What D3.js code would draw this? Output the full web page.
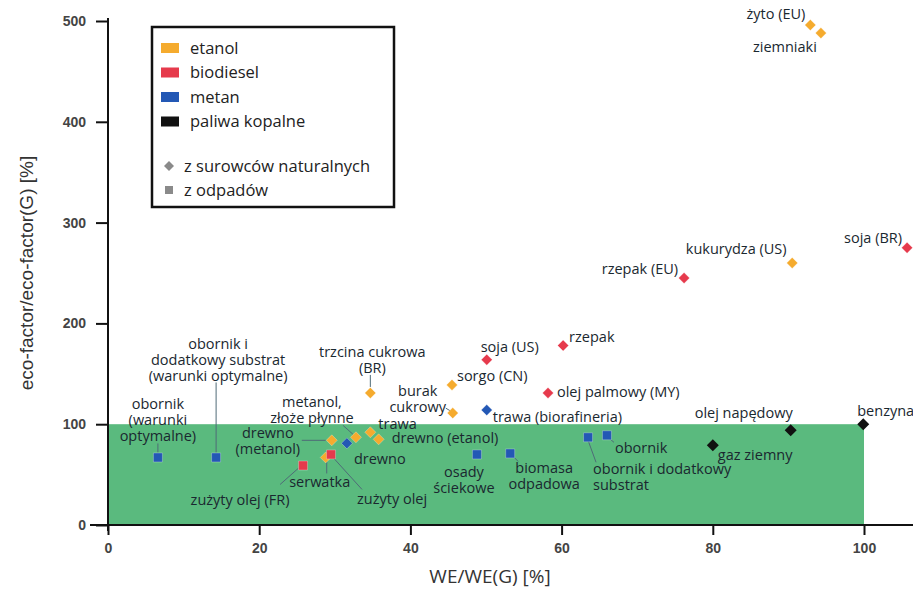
<!DOCTYPE html>
<html>
<head>
<meta charset="utf-8">
<script src="https://cdn.jsdelivr.net/npm/d3@7"></script>
<style>
  body { margin: 0; background: #fff; }
  svg { display: block; }
</style>
</head>
<body>
<div id="chart"></div>
<script>
// data: WE/WE(G) [%], eco-factor/eco-factor(G) [%]
const etanol = [
  { name: "żyto (EU)", we: 92.9, eco: 496, kind: "nat" },
  { name: "ziemniaki", we: 94.3, eco: 488, kind: "nat" },
  { name: "kukurydza (US)", we: 90.5, eco: 260, kind: "nat" },
  { name: "trzcina cukrowa (BR)", we: 34.7, eco: 131, kind: "nat" },
  { name: "sorgo (CN)", we: 45.5, eco: 139, kind: "nat" },
  { name: "burak cukrowy", we: 45.6, eco: 111, kind: "nat" },
  { name: "drewno (metanol)", we: 29.6, eco: 84, kind: "nat" },
  { name: "metanol, złoże płynne", we: 32.8, eco: 87, kind: "nat" },
  { name: "trawa", we: 34.7, eco: 92, kind: "nat" },
  { name: "drewno (etanol)", we: 35.8, eco: 85, kind: "nat" },
  { name: "serwatka", we: 28.8, eco: 67, kind: "nat" }
];
const biodiesel = [
  { name: "soja (BR)", we: 105.7, eco: 275, kind: "nat" },
  { name: "rzepak (EU)", we: 76.2, eco: 245, kind: "nat" },
  { name: "rzepak", we: 60.2, eco: 178, kind: "nat" },
  { name: "soja (US)", we: 50.1, eco: 164, kind: "nat" },
  { name: "olej palmowy (MY)", we: 58.2, eco: 131, kind: "nat" },
  { name: "zużyty olej", we: 29.5, eco: 70, kind: "waste" },
  { name: "zużyty olej (FR)", we: 25.8, eco: 59, kind: "waste" }
];
const metan = [
  { name: "trawa (biorafineria)", we: 50.1, eco: 114, kind: "nat" },
  { name: "drewno", we: 31.6, eco: 81, kind: "nat" },
  { name: "obornik (warunki optymalne)", we: 6.6, eco: 67, kind: "waste" },
  { name: "obornik i dodatkowy substrat (warunki optymalne)", we: 14.3, eco: 67, kind: "waste" },
  { name: "osady ściekowe", we: 48.8, eco: 70, kind: "waste" },
  { name: "biomasa odpadowa", we: 53.2, eco: 71, kind: "waste" },
  { name: "obornik i dodatkowy substrat", we: 63.5, eco: 87, kind: "waste" },
  { name: "obornik", we: 66.0, eco: 89, kind: "waste" }
];
const paliwaKopalne = [
  { name: "olej napędowy", we: 90.3, eco: 94, kind: "nat" },
  { name: "benzyna", we: 99.9, eco: 100, kind: "nat" },
  { name: "gaz ziemny", we: 80.0, eco: 79, kind: "nat" }
];
const xTicks = [0, 20, 40, 60, 80, 100];
const yTicks = [0, 100, 200, 300, 400, 500];
const seriesNames = ["etanol", "biodiesel", "metan", "paliwa kopalne"];
const kindNames = ["z surowców naturalnych", "z odpadów"];
const goodZone = { we: 100, eco: 100 };

const colors = {
  "etanol": "#f5ab2e",
  "biodiesel": "#e63a4c",
  "metan": "#2358b5",
  "paliwa kopalne": "#111"
};

// label placement: offsets from the point in px, text lines, anchor, leader line
const labelLayout = {
  "żyto (EU)": { lines: ["żyto (EU)"], a: "end", dx: -5, dy: -11 },
  "ziemniaki": { lines: ["ziemniaki"], a: "middle", dx: -36, dy: 14 },
  "kukurydza (US)": { lines: ["kukurydza (US)"], a: "middle", dx: -56, dy: -14 },
  "trzcina cukrowa (BR)": { lines: ["trzcina cukrowa", "(BR)"], a: "middle", dx: 2, dy: -41, lead: [0, -18, 0, -6] },
  "sorgo (CN)": { lines: ["sorgo (CN)"], a: "start", dx: 5, dy: -9 },
  "burak cukrowy": { lines: ["burak", "cukrowy"], a: "middle", dx: -35, dy: -22, lead: [-7, -5, -2, -2] },
  "drewno (metanol)": { lines: ["drewno", "(metanol)"], a: "middle", dx: -64, dy: -7, lead: [-30, 0, -6, 0] },
  "metanol, złoże płynne": { lines: ["metanol,", "złoże płynne"], a: "middle", dx: -44, dy: -35, lead: [-13, -12, -3, -3] },
  "trawa": { lines: ["trawa"], a: "start", dx: 8, dy: -8 },
  "drewno (etanol)": { lines: ["drewno (etanol)"], a: "start", dx: 13, dy: -1 },
  "serwatka": { lines: ["serwatka"], a: "middle", dx: -6, dy: 24, lead: [1, 4, 1, 16] },
  "soja (BR)": { lines: ["soja (BR)"], a: "middle", dx: -34, dy: -10 },
  "rzepak (EU)": { lines: ["rzepak (EU)"], a: "end", dx: -6, dy: -9 },
  "rzepak": { lines: ["rzepak"], a: "start", dx: 6, dy: -9 },
  "soja (US)": { lines: ["soja (US)"], a: "middle", dx: 23, dy: -13 },
  "olej palmowy (MY)": { lines: ["olej palmowy (MY)"], a: "start", dx: 9, dy: -1 },
  "zużyty olej": { lines: ["zużyty olej"], a: "start", dx: 26, dy: 44, lead: [2, 3, 31, 35] },
  "zużyty olej (FR)": { lines: ["zużyty olej (FR)"], a: "middle", dx: -63, dy: 34, lead: [-5, 3, -23, 19] },
  "trawa (biorafineria)": { lines: ["trawa (biorafineria)"], a: "start", dx: 6, dy: 7 },
  "drewno": { lines: ["drewno"], a: "start", dx: 7, dy: 16 },
  "obornik (warunki optymalne)": { lines: ["obornik", "(warunki", "optymalne)"], a: "middle", dx: 0, dy: -54, lead: [0, -14, 0, -5] },
  "obornik i dodatkowy substrat (warunki optymalne)": { lines: ["obornik i", "dodatkowy substrat", "(warunki optymalne)"], a: "middle", dx: 2, dy: -114, lead: [0, -75, 0, -5] },
  "osady ściekowe": { lines: ["osady", "ściekowe"], a: "middle", dx: -13, dy: 17 },
  "biomasa odpadowa": { lines: ["biomasa", "odpadowa"], a: "middle", dx: 34, dy: 14, lead: [3, 3, 8, 8] },
  "obornik i dodatkowy substrat": { lines: ["obornik i dodatkowy", "substrat"], a: "start", dx: 5, dy: 32, lead: [0, 3, 8, 25] },
  "obornik": { lines: ["obornik"], a: "start", dx: 8, dy: 13, lead: [2, 3, 7, 7] },
  "olej napędowy": { lines: ["olej napędowy"], a: "middle", dx: -47, dy: -17 },
  "benzyna": { lines: ["benzyna"], a: "start", dx: -6, dy: -13 },
  "gaz ziemny": { lines: ["gaz ziemny"], a: "start", dx: 5, dy: 10 }
};

const width = 913;
const height = 594;
const lineStep = 16;

const x = d3.scaleLinear().domain([0, 100]).range([108, 864]);
const y = d3.scaleLinear().domain([0, 500]).range([525, 21]);

const svg = d3.select("#chart").append("svg")
  .attr("width", width)
  .attr("height", height)
  .attr("viewBox", [0, 0, width, height]);

// green zone
svg.append("rect")
  .attr("x", x(0))
  .attr("y", y(goodZone.eco))
  .attr("width", x(goodZone.we) - x(0))
  .attr("height", y(0) - y(goodZone.eco))
  .attr("fill", "#5aba7e");

// axes
const xAxis = svg.append("g")
  .attr("transform", `translate(0,${y(0)})`)
  .call(d3.axisBottom(x).tickValues(xTicks).tickSize(10).tickPadding(8));
const yAxis = svg.append("g")
  .attr("transform", `translate(${x(0)},0)`)
  .call(d3.axisLeft(y).tickValues(yTicks).tickSize(12).tickPadding(10));

[xAxis, yAxis].forEach(g => {
  g.select(".domain").remove();
  g.selectAll(".tick line").attr("stroke", "#111").attr("stroke-width", 2);
  g.selectAll(".tick text")
    .attr("fill", "#444")
    .style("font-family", "'Liberation Sans', Arial, sans-serif")
    .style("font-size", "14px")
    .style("font-weight", "bold");
});

svg.append("line")
  .attr("x1", 90).attr("x2", width)
  .attr("y1", y(0)).attr("y2", y(0))
  .attr("stroke", "#111").attr("stroke-width", 2);
svg.append("line")
  .attr("x1", x(0)).attr("x2", x(0))
  .attr("y1", 18).attr("y2", y(0) + 6)
  .attr("stroke", "#111").attr("stroke-width", 2);

svg.append("text")
  .attr("x", 490).attr("y", 583)
  .attr("text-anchor", "middle")
  .attr("fill", "#333")
  .style("font-family", "'Open Sans', sans-serif")
  .style("font-size", "19px")
  .text("WE/WE(G) [%]");

svg.append("text")
  .attr("transform", `translate(33,${(y(0) + y(500)) / 2}) rotate(-90)`)
  .attr("text-anchor", "middle")
  .attr("fill", "#333")
  .style("font-family", "'Liberation Sans', Arial, sans-serif")
  .style("font-size", "19px")
  .text("eco-factor/eco-factor(G) [%]");

// points
const all = [
  ...etanol.map(d => ({ ...d, series: "etanol" })),
  ...biodiesel.map(d => ({ ...d, series: "biodiesel" })),
  ...metan.map(d => ({ ...d, series: "metan" })),
  ...paliwaKopalne.map(d => ({ ...d, series: "paliwa kopalne" }))
];

// leader lines
const leaders = svg.append("g");
all.forEach(d => {
  const l = labelLayout[d.name];
  if (!l || !l.lead) return;
  const px = x(d.we), py = y(d.eco);
  leaders.append("line")
    .attr("x1", px + l.lead[0]).attr("y1", py + l.lead[1])
    .attr("x2", px + l.lead[2]).attr("y2", py + l.lead[3])
    .attr("stroke", "#4f6b78").attr("stroke-width", 1);
});

const marks = svg.append("g");
marks.selectAll("path")
  .data(all)
  .join("path")
  .attr("transform", d => `translate(${x(d.we)},${y(d.eco)})`)
  .attr("d", d => {
    if (d.kind === "waste") return "M-4.5,-4.5H4.5V4.5H-4.5Z";
    const r = d.series === "paliwa kopalne" ? 6 : 5.5;
    return `M0,${-r}L${r},0L0,${r}L${-r},0Z`;
  })
  .attr("fill", d => colors[d.series])
  .attr("stroke", d => d.series === "paliwa kopalne" ? "none" : "rgba(255,255,255,0.35)")
  .attr("stroke-width", 0.8);

// labels
const labels = svg.append("g")
  .style("font-family", "'Open Sans', sans-serif")
  .style("font-size", "14.5px");
all.forEach(d => {
  const l = labelLayout[d.name];
  if (!l) return;
  const px = x(d.we), py = y(d.eco);
  const t = labels.append("text")
    .attr("text-anchor", l.a)
    .attr("fill", "#1a2830");
  l.lines.forEach((line, i) => {
    t.append("tspan")
      .attr("x", px + l.dx)
      .attr("y", py + l.dy + i * lineStep)
      .attr("dy", "0.35em")
      .text(line);
  });
});

// legend
const legend = svg.append("g");
legend.append("rect")
  .attr("x", 152).attr("y", 27)
  .attr("width", 242).attr("height", 180)
  .attr("fill", "#fff")
  .attr("stroke", "#111").attr("stroke-width", 2.5);

const legendRows = seriesNames.map((s, i) => ({ label: s, cy: 48 + i * 24.5 }));
legendRows.forEach(r => {
  legend.append("rect")
    .attr("x", 161).attr("y", r.cy - 5)
    .attr("width", 18).attr("height", 10)
    .attr("fill", colors[r.label]);
  legend.append("text")
    .attr("x", 190).attr("y", r.cy).attr("dy", "0.35em")
    .attr("fill", "#222")
    .style("font-family", "'Open Sans', sans-serif")
    .style("font-size", "16.5px")
    .text(r.label);
});
kindNames.forEach((k, i) => {
  const cy = 166 + i * 24;
  legend.append("path")
    .attr("transform", `translate(169,${cy})`)
    .attr("d", i === 0 ? "M0,-5L5,0L0,5L-5,0Z" : "M-4,-4H4V4H-4Z")
    .attr("fill", "#8a8a8a");
  legend.append("text")
    .attr("x", 184).attr("y", cy).attr("dy", "0.35em")
    .attr("fill", "#222")
    .style("font-family", "'Open Sans', sans-serif")
    .style("font-size", "16.5px")
    .text(k);
});
</script>
</body>
</html>
